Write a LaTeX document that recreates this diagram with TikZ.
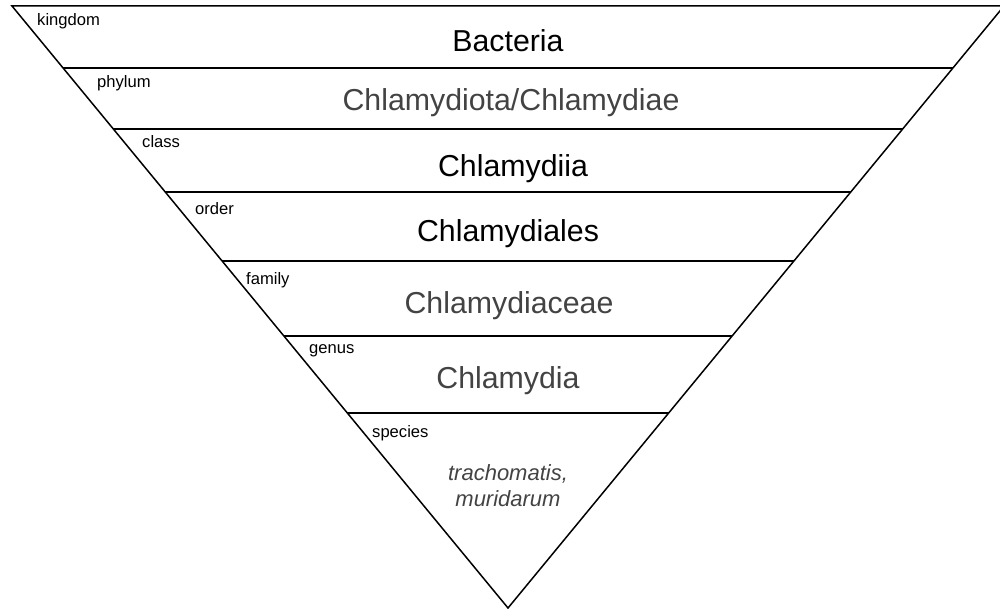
\documentclass[tikz,border=0pt]{standalone}
\usepackage{fontspec}
\setmainfont{Liberation Sans}
\definecolor{txtgray}{HTML}{434343}
\begin{document}
\begin{tikzpicture}[x=1pt,y=-1pt,
  rank/.style={anchor=base, inner sep=0pt, font=\fontsize{30.3}{36}\selectfont},
  lbl/.style={anchor=base west, inner sep=0pt, font=\fontsize{16.6}{19}\selectfont},
  edge/.style={line width=1.5pt, line join=miter}]
\useasboundingbox (0,0) rectangle (1000,609);
\begin{scope}
\clip (0,0) rectangle (1000,609);
\coordinate (TL) at (12,6);
\coordinate (TR) at (1004,6);
\coordinate (A) at (508,608);
\draw[edge] (TL) -- (TR) -- (A) -- cycle;
\foreach \y in {68,129,192,261,336,413}
  \draw[edge] ({12+0.8239*(\y-6)},\y) -- ({1004-0.8239*(\y-6)},\y);
\end{scope}
\node[rank] (bacteria) at (508,52) {Bacteria};
\node[rank,text=txtgray] (phylumname) at (511,111) {Chlamydiota/Chlamydiae};
\node[rank] (classname) at (513,177) {Chlamydiia};
\node[rank] (ordername) at (508,242) {Chlamydiales};
\node[rank,text=txtgray] (familyname) at (509,313) {Chlamydiaceae};
\node[rank,text=txtgray] (genusname) at (508,388) {Chlamydia};
\node[anchor=base, inner sep=0pt, align=center, text=txtgray,
  font=\fontsize{22}{26}\selectfont\itshape] (speciesname) at (508,506) {trachomatis,\\muridarum};
\node[lbl] (kingdom) at (37,26) {kingdom};
\node[lbl] (phylum) at (97,88) {phylum};
\node[lbl] (class) at (142,148) {class};
\node[lbl] (order) at (195,215) {order};
\node[lbl] (family) at (246,285) {family};
\node[lbl] (genus) at (309,353) {genus};
\node[lbl] (species) at (372,437) {species};
\end{tikzpicture}
\end{document}
